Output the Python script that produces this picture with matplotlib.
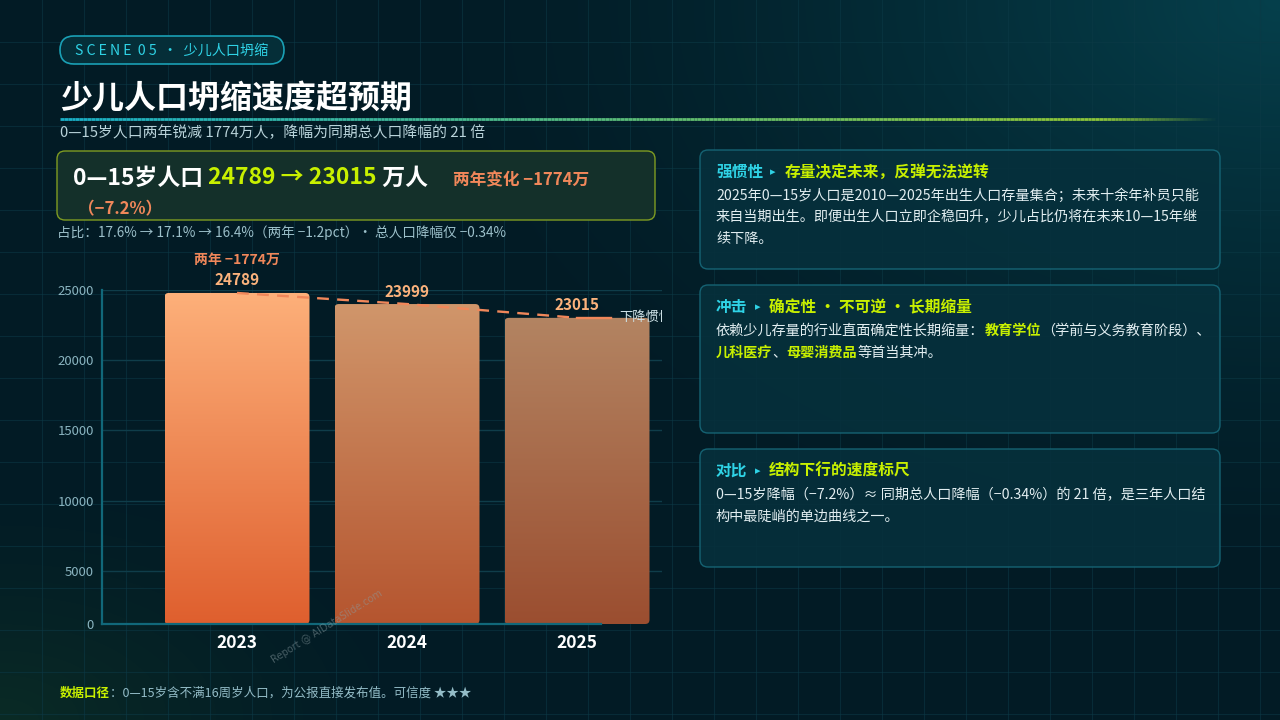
import numpy as np
import matplotlib
matplotlib.use('Agg')
import matplotlib.pyplot as plt
from matplotlib.patches import FancyBboxPatch
from matplotlib.collections import LineCollection
from matplotlib.colors import to_rgb

plt.rcParams['font.family'] = ['Noto Sans CJK SC', 'DejaVu Sans']

# ============================================================
# 数据
# ============================================================
years = ['2023', '2024', '2025']
pop_0_15 = [24789, 23999, 23015]          # 万人
y_ticks = [5000, 10000, 15000, 20000, 25000]
y_floor = 1200                              # el eje X corta un poco por encima de 0
bar_top_colors = ['#fdb07a', '#d0966b', '#b38462']
bar_bot_colors = ['#df5f2e', '#b5552f', '#9b4e30']

cards = [
    ('强惯性', '存量决定未来，反弹无法逆转',
     [[('2025年0—15岁人口是2010—2025年出生人口存量集合；未来十余年补员只能', 'n')],
      [('来自当期出生。即便出生人口立即企稳回升，少儿占比仍将在未来10—15年继', 'n')],
      [('续下降。', 'n')]]),
    ('冲击', '确定性 · 不可逆 · 长期缩量',
     [[('依赖少儿存量的行业直面确定性长期缩量：', 'n'), ('教育学位', 'h'),
       ('（学前与义务教育阶段）、', 'n')],
      [('儿科医疗', 'h'), ('、', 'n'), ('母婴消费品', 'h'), ('等首当其冲。', 'n')]]),
    ('对比', '结构下行的速度标尺',
     [[('0—15岁降幅（−7.2%）≈ 同期总人口降幅（−0.34%）的 21 倍，是三年人口结', 'n')],
      [('构中最陡峭的单边曲线之一。', 'n')]]),
]
card_boxes = [(700, 150, 520, 119), (700, 285, 520, 148), (700, 449, 520, 118)]

# ============================================================
# 颜色
# ============================================================
CYAN = '#2fd3e6'
LIME = '#c8f000'
ORANGE = '#f0875a'
TEXT = '#e2eef1'
MUTED = '#93bcc7'

fig = plt.figure(figsize=(12.8, 7.2), dpi=100)

# 背景
bg = fig.add_axes([0, 0, 1, 1])
bg.set_xlim(0, 1280)
bg.set_ylim(720, 0)
bg.axis('off')
yy, xx = np.mgrid[0:720, 0:1280]
base = np.array(to_rgb('#021b25'))
teal = np.array(to_rgb('#06404c'))
green = np.array(to_rgb('#0a2b26'))
w_tr = np.clip(1 - np.hypot((xx - 1280) / 900, yy / 600), 0, 1) ** 1.5
w_bl = np.clip(1 - np.hypot(xx / 450, (720 - yy) / 260), 0, 1) ** 1.5
img = base + (teal - base) * w_tr[..., None] + (green - base) * w_bl[..., None]
bg.imshow(img, extent=[0, 1280, 720, 0], zorder=0, aspect='auto')
for g in range(42, 1280, 42):
    bg.axvline(g, color='#0c3a46', lw=0.8, alpha=0.55, zorder=1)
for g in range(42, 720, 42):
    bg.axhline(g, color='#0c3a46', lw=0.8, alpha=0.55, zorder=1)

R = fig.canvas.get_renderer()


def runs(x, y, parts, size, va='center'):
    """Texto multicolor en una linea; parts = [(texto, color, peso[, tamano, hueco])]."""
    for p in parts:
        s, color, weight = p[:3]
        fs = p[3] if len(p) > 3 else size
        gap = p[4] if len(p) > 4 else 0
        t = bg.text(x + gap, y, s, color=color, fontsize=fs, fontweight=weight,
                    va=va, ha='left', zorder=5)
        x = t.get_window_extent(R).x1
    return x


def box(x, y, w, h, r, fc, ec, lw=1.0, alpha=1.0):
    p = FancyBboxPatch((x, y), w, h, boxstyle=f'round,pad=0,rounding_size={r}',
                       fc=fc, ec=ec, lw=lw, alpha=alpha, zorder=3)
    bg.add_patch(p)


# ============================================================
# Cabecera
# ============================================================
box(60, 36, 224, 28, 14, '#052e38', '#1aa0b5', lw=1.2)
bg.text(75, 50.5, 'S C E N E  0 5  ·  少儿人口坍缩', color=CYAN, fontsize=10.2,
        va='center', ha='left', zorder=5)
bg.text(60, 100, '少儿人口坍缩速度超预期', color='white', fontsize=23,
        fontweight='bold', va='center', ha='left', zorder=5)

# linea degradada bajo el titulo
xs = np.linspace(60, 1215, 300)
segs = [[(xs[i], 119), (xs[i + 1], 119)] for i in range(len(xs) - 1)]
c0, c1 = np.array(to_rgb('#19b0c8')), np.array(to_rgb('#8cc43a'))
cols = []
for xv in xs[:-1]:
    f = min((xv - 60) / 1000, 1)
    a = 1.0 if xv < 1100 else max(0, 1 - (xv - 1100) / 115)
    cols.append((*(c0 + (c1 - c0) * f), a))
bg.add_collection(LineCollection(segs, colors=cols, lw=2, zorder=4))

bg.text(60, 133, '0—15岁人口两年锐减 1774万人，降幅为同期总人口降幅的 21 倍',
        color='#b9d3da', fontsize=10.7, va='center', ha='left', zorder=5)

# KPI
box(57, 151, 598, 69, 8, '#14302a', '#7f9c22', lw=1.0)
runs(73, 178, [('0—15岁人口 ', 'white', 'bold'), ('24789 → 23015', LIME, 'bold'),
               (' 万人', 'white', 'bold')], 16.5)
bg.text(453, 180, '两年变化 −1774万', color=ORANGE, fontsize=12, fontweight='bold',
        va='center', ha='left', zorder=5)
bg.text(78, 209, '（−7.2%）', color=ORANGE, fontsize=12, fontweight='bold',
        va='center', ha='left', zorder=5)
bg.text(57, 233, '占比：17.6% → 17.1% → 16.4%（两年 −1.2pct）· 总人口降幅仅 −0.34%',
        color='#9cc0ca', fontsize=9.8, va='center', ha='left', zorder=5)

# ============================================================
# Tarjetas derecha
# ============================================================
for (head, sub, lines), (bx, by, bw, bh) in zip(cards, card_boxes):
    box(bx, by, bw, bh, 8, '#06303c', '#17697a', lw=1.0, alpha=0.9)
    runs(716, by + 22, [(head, CYAN, 'bold'), ('▸', CYAN, 'normal', 8, 7),
                        (sub, LIME, 'bold', 11.3, 9)], 11.3)
    for k, ln in enumerate(lines):
        parts = [(s, LIME if kind == 'h' else TEXT, 'bold' if kind == 'h' else 'normal')
                 for s, kind in ln]
        runs(716, by + 46 + k * 21.5, parts, 10.2)

# pie
runs(60, 693, [('数据口径', LIME, 'bold'),
               ('：0—15岁含不满16周岁人口，为公报直接发布值。可信度 ★★★', MUTED, 'normal')], 9)

# ============================================================
# Grafico de barras
# ============================================================
L, Rr, B, T = 102, 662, 624, 290
ax = fig.add_axes([L / 1280, (720 - B) / 720, (Rr - L) / 1280, (B - T) / 720])
ax.set_facecolor('none')
px_x = 170.0
xlo = -(237 - L) / px_x
xhi = 2 + (Rr - 577) / px_x
ax.set_xlim(xlo, xhi)
ax.set_ylim(y_floor, 25000)
x = np.arange(len(years))
bw = 145 / px_x
aspect = ((25000 - y_floor) / (B - T)) * px_x

for i, v in enumerate(pop_0_15):
    ct, cb = np.array(to_rgb(bar_top_colors[i])), np.array(to_rgb(bar_bot_colors[i]))
    grad = np.linspace(0, 1, 256)[:, None, None]
    gimg = ct + (cb - ct) * grad
    im = ax.imshow(gimg, extent=[x[i] - bw / 2, x[i] + bw / 2, y_floor, v],
                   aspect='auto', zorder=2, origin='upper')
    clip = FancyBboxPatch((x[i] - bw / 2, y_floor), bw, v - y_floor,
                          boxstyle='round,pad=0,rounding_size=0.025',
                          mutation_aspect=aspect, fc='none', ec='none',
                          transform=ax.transData)
    ax.add_patch(clip)
    im.set_clip_path(clip)
    ax.annotate(f'{v}', (x[i], v), xytext=(0, 9), textcoords='offset points',
                ha='center', va='center', color='#fbb27c', fontsize=11,
                fontweight='bold', annotation_clip=False)

ax.annotate('两年 −1774万', (x[0], pop_0_15[0]), xytext=(0, 23.5),
            textcoords='offset points', ha='center', va='center', color=ORANGE,
            fontsize=10, fontweight='bold', annotation_clip=False)

ax.plot(x, pop_0_15, color=ORANGE, lw=1.7, ls=(0, (5, 3.5)), zorder=4)
ax.plot([x[2], x[2] + 0.2], [pop_0_15[2]] * 2, color=ORANGE, lw=1.7, zorder=4)
ax.text(x[2] + 0.25, pop_0_15[2], '下降惯性', color='#cfe3e8', fontsize=9.5,
        va='center', ha='left', zorder=5, clip_on=True)

ax.set_xticks(x)
ax.set_xticklabels(years, color='white', fontsize=12.5, fontweight='bold')
ax.set_yticks([y_floor] + y_ticks)
ax.set_yticklabels(['0'] + [str(t) for t in y_ticks], color='#8ab4c0', fontsize=9.5)
ax.tick_params(length=0)
ax.tick_params(axis='x', pad=7)
ax.tick_params(axis='y', pad=6)
for t in y_ticks:
    ax.axhline(t, color='#0f3d4a', lw=1, zorder=1)
for s in ['top', 'right']:
    ax.spines[s].set_visible(False)
for s in ['left', 'bottom']:
    ax.spines[s].set_color('#11687a')
    ax.spines[s].set_linewidth(1.6)
ax.spines['bottom'].set_bounds(xlo, 2 + (601 - 577) / px_x)

# marca de agua
fig.text(327 / 1280, 1 - 627 / 720, 'Report @ AIDataSlide.com', color='#8a9ca1',
         alpha=0.5, fontsize=7, rotation=32, ha='center', va='center', zorder=10,
         family='DejaVu Sans')

fig.savefig('out.png', dpi=100)
